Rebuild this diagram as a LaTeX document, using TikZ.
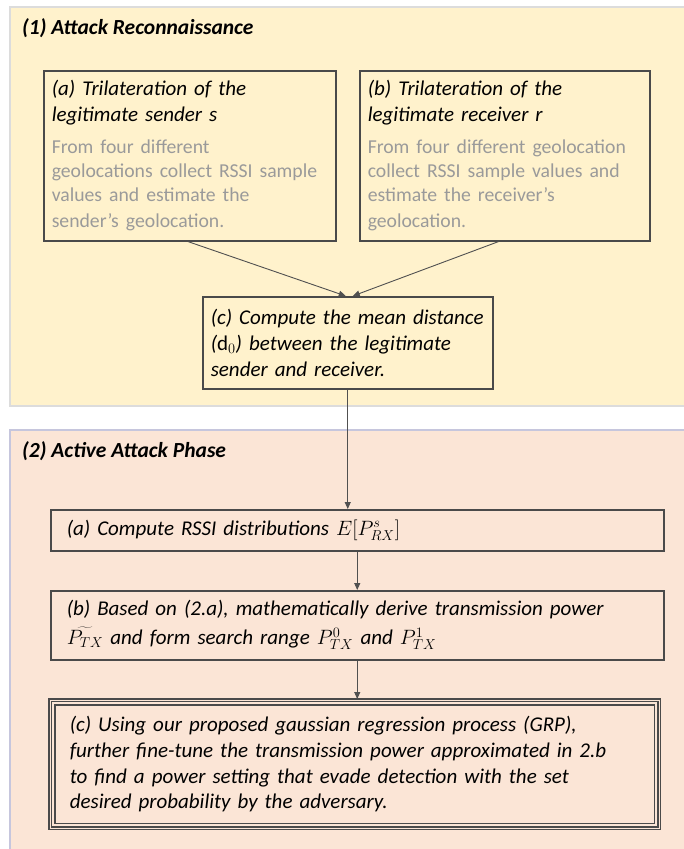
\documentclass[tikz,border=0pt]{standalone}
\usepackage{fontspec}
\setmainfont{Carlito}
\usetikzlibrary{arrows.meta,calc}

\definecolor{reconfill}{HTML}{FFF2CC}
\definecolor{reconedge}{HTML}{DCDCDC}
\definecolor{activefill}{HTML}{FBE5D6}
\definecolor{activeedge}{HTML}{C6C6DD}
\definecolor{boxedge}{HTML}{4A4A4A}
\definecolor{bodygray}{HTML}{9A9A9A}
\definecolor{linkgray}{HTML}{505050}

\tikzset{
  panel/.style={line width=1.5pt, inner sep=0pt},
  phasetitle/.style={anchor=base west, inner sep=0pt,
    font=\fontsize{21.5}{25}\selectfont\bfseries\itshape},
  stepbox/.style={draw=boxedge, line width=1.5pt, anchor=north west,
    align=left, inner xsep=8pt, inner ysep=0pt,
    font=\fontsize{21}{25.8}\selectfont\itshape},
  link/.style={draw=linkgray, line width=0.9pt,
    -{Triangle[length=7pt,width=6pt]}},
}
\newcommand{\bodytext}[1]{{\fontsize{19.7}{24.3}\selectfont\upshape\color{bodygray}#1}}

\begin{document}
\begin{tikzpicture}[x=1pt,y=-1pt]
\useasboundingbox (0,0) rectangle (683,849);

% phase panels
\path[panel, fill=reconfill, draw=reconedge] (10,7) rectangle (695,406);
\path[panel, fill=activefill, draw=activeedge] (10,430) rectangle (695,860);
\node[phasetitle] (t1) at (22,34) {(1) Attack Reconnaissance};
\node[phasetitle] (t2) at (22,457) {(2) Active Attack Phase};

% reconnaissance steps
\node[stepbox, minimum width=292pt, minimum height=170pt, text width=276pt]
  (sa) at (43,70) {(a) Trilateration of the\\legitimate sender s\\[7pt]
  \bodytext{From four different\\geolocations collect RSSI sample\\values and estimate the\\sender’s geolocation.}};
\node[stepbox, minimum width=290pt, minimum height=170pt, text width=274pt]
  (sb) at (359,70) {(b) Trilateration of the\\legitimate receiver r\\[7pt]
  \bodytext{From four different geolocation\\collect RSSI sample values and\\estimate the receiver’s\\geolocation.}};
\node[stepbox, minimum width=290pt, minimum height=92pt, text width=274pt]
  (sc) at (202,296) {(c) Compute the mean distance\\($\mathrm{d}_0$) between the legitimate\\sender and receiver.};

% active attack steps
\node[stepbox, minimum width=597pt, minimum height=41pt, text width=581pt, inner xsep=16pt]
  (pa) at (50,509) {(a) Compute RSSI distributions $E[P^{s}_{RX}]$};
\node[stepbox, minimum width=597pt, minimum height=69pt, text width=581pt, inner xsep=16pt]
  (pb) at (50,590) {(b) Based on (2.a), mathematically derive transmission power\\[3pt]
  $\widetilde{P_{TX}}$ and form search range $P^{0}_{TX}$ and $P^{1}_{TX}$};
\node[stepbox, draw=none, minimum width=602pt, minimum height=129pt, text width=570pt, inner xsep=20pt]
  (pc) at (49,699) {(c) Using our proposed gaussian regression process (GRP),\\further fine-tune the transmission power approximated in 2.b\\to find a power setting that evade detection with the set\\desired probability by the adversary.};
\draw[boxedge, line width=1.1pt] (pc.north west) rectangle (pc.south east);
\draw[boxedge, line width=1.1pt] ($(pc.north west)+(2.5,2.5)$) rectangle ($(pc.south east)+(-2.5,-2.5)$);
\draw[boxedge, line width=1.3pt] ($(pc.north west)+(6,6)$) rectangle ($(pc.south east)+(-6,-6)$);

% connectors
\draw[link] ([xshift=-2pt]sa.south) -- ([xshift=-2pt]sc.north);
\draw[link] ([xshift=-6pt]sb.south) -- ([xshift=5pt]sc.north);
\draw[link] (sc.south) -- (sc.south |- pa.north);
\draw[link] (pa.south) -- (pb.north);
\draw[link] (pb.south) -- (pb.south |- pc.north);
\end{tikzpicture}
\end{document}
